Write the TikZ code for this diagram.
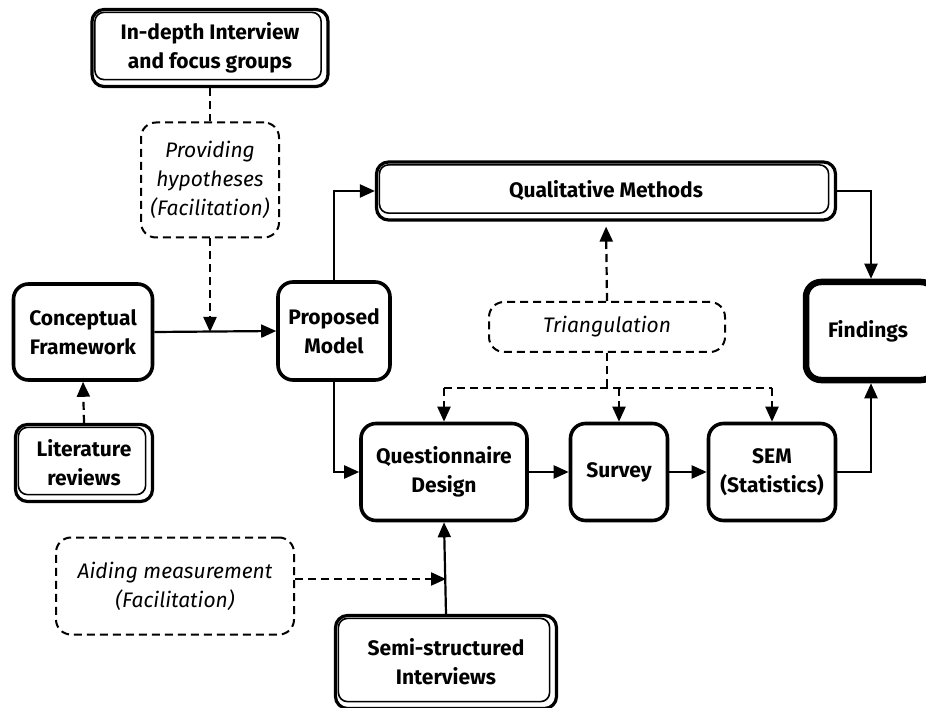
\documentclass[tikz,border=0pt]{standalone}
\usepackage{fontspec}
\setmainfont{Fira Sans}
\usetikzlibrary{arrows.meta,calc}

\begin{document}
\begin{tikzpicture}[x=1pt,y=-1pt,
  solidbox/.style={draw,line width=3.6pt,rounded corners=15pt,align=center,inner sep=0pt,
    font=\fontsize{21}{29}\selectfont\bfseries},
  dblbox/.style={draw,line width=3.2pt,rounded corners=12pt,align=center,inner sep=0pt,
    font=\fontsize{21}{29}\selectfont\bfseries},
  dashbox/.style={draw,line width=2pt,dash pattern=on 8pt off 5pt,rounded corners=15pt,
    align=center,inner sep=0pt,font=\fontsize{21}{29}\selectfont\itshape},
  inner/.style={line width=1.6pt,rounded corners=9pt},
  link/.style={line width=2.2pt,-{Triangle[length=15pt,width=13pt]}},
  dlink/.style={link,dash pattern=on 8pt off 5pt},
  dline/.style={line width=2.2pt,dash pattern=on 8pt off 5pt},
]
\useasboundingbox (0,0) rectangle (926,708);

% boxes
\node[dblbox,minimum width=236pt,minimum height=77pt] (indepth) at (210,48)
  {In-depth Interview\\and focus groups};
\node[dashbox,minimum width=138pt,minimum height=115pt] (provide) at (210,180)
  {Providing\\hypotheses\\(Facilitation)};
\node[solidbox,minimum width=139pt,minimum height=96pt] (concept) at (83,332)
  {Conceptual\\Framework};
\node[dblbox,minimum width=137pt,minimum height=77pt] (lit) at (84,463)
  {Literature\\reviews};
\node[solidbox,minimum width=112pt,minimum height=98pt] (proposed) at (334,331)
  {Proposed\\Model};
\node[dblbox,minimum width=459pt,minimum height=58pt] (qual) at (606,191)
  {Qualitative Methods};
\node[dashbox,minimum width=236pt,minimum height=50pt] (tri) at (607,327)
  {Triangulation};
\node[solidbox,line width=6.5pt,minimum width=130pt,minimum height=98pt] (findings) at (871,331)
  {};
\node[font=\fontsize{21}{29}\selectfont\bfseries] (findtxt) at (868,331) {Findings};
\node[solidbox,minimum width=166pt,minimum height=97pt] (qd) at (444,472)
  {Questionnaire\\Design};
\node[solidbox,minimum width=97pt,minimum height=97pt] (survey) at (619,472)
  {Survey};
\node[solidbox,minimum width=127pt,minimum height=97pt] (sem) at (772,472)
  {SEM\\(Statistics)};
\node[dblbox,minimum width=221pt,minimum height=93pt] (semi) at (446,662)
  {Semi-structured\\Interviews};
\node[dashbox,minimum width=238pt,minimum height=97pt] (aid) at (175,586)
  {Aiding measurement\\(Facilitation)};

% inner lines of the double-framed boxes
\foreach \n in {indepth,lit,qual,semi}
  \draw[inner] ($(\n.north west)+(4.5,4.5)$) rectangle ($(\n.south east)+(-8.5,-8.5)$);

% junction points
\coordinate (hyp) at (provide.south |- concept.east);
\coordinate (bus) at (0,388);
\coordinate (aidout) at ($(aid.east)+(0,-7)$);

% connectors
\draw[dline] (indepth.south) -- (provide.north);
\draw[dlink] (provide.south) -- (hyp);
\draw[link] (concept.east) -- (proposed.west);
\draw[dlink] (lit.north) -- (concept.south);
\draw[link] (proposed.north) |- (qual.west);
\draw[link] (qual.east) -| (findings.north);
\draw[dlink,shorten >=5pt] (tri.north) -- (qual.south);
\draw[dline] (tri.south) -- (tri.south |- bus);
\draw[dline] (qd.north |- bus) -- (sem.north |- bus);
\draw[dlink] (qd.north |- bus) -- (qd.north);
\draw[dlink] (survey.north |- bus) -- (survey.north);
\draw[dlink] (sem.north |- bus) -- (sem.north);
\draw[link] (proposed.south) |- (qd.west);
\draw[link] (qd.east) -- (survey.west);
\draw[link] (survey.east) -- (sem.west);
\draw[link] (sem.east) -| (findings.south);
\draw[link] (semi.north) -- (qd.south);
\draw[dlink] (aidout) -- (aidout -| semi.north);
\end{tikzpicture}
\end{document}
